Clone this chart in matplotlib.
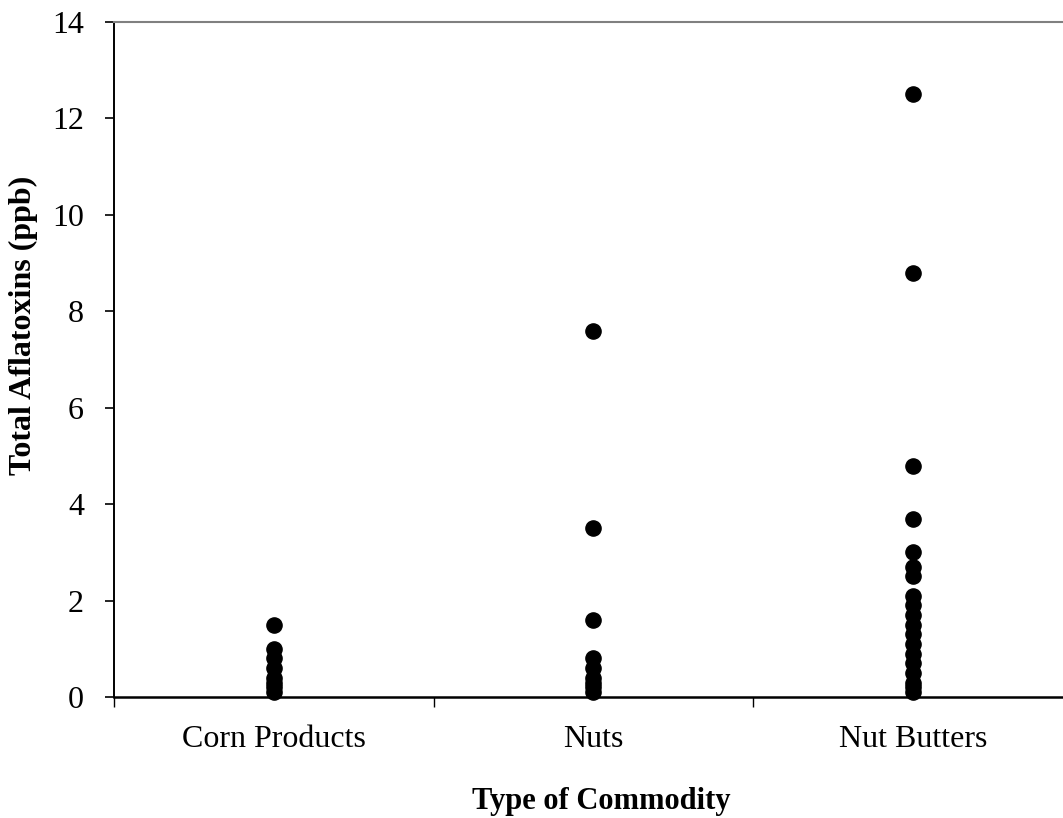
import numpy as np
import matplotlib.pyplot as plt

plt.rcParams['font.family'] = ['Liberation Serif', 'DejaVu Serif']

# Total aflatoxin levels (ppb) per commodity type
categories = ["Corn Products", "Nuts", "Nut Butters"]
corn = [1.5, 1.0, 0.8, 0.6, 0.4, 0.3, 0.2, 0.1]
nuts = [7.6, 3.5, 1.6, 0.8, 0.6, 0.4, 0.3, 0.2, 0.1]
nut_butters = [12.5, 8.8, 4.8, 3.7, 3.0, 2.7, 2.5, 2.1, 1.9, 1.7, 1.5,
               1.3, 1.1, 0.9, 0.7, 0.5, 0.3, 0.2, 0.1]
yticks = [0, 2, 4, 6, 8, 10, 12, 14]

fig = plt.figure(figsize=(10.63, 8.18), dpi=100)
ax = fig.add_axes([0.1072, 0.1479, 0.9022, 0.8252])

for i, vals in enumerate([corn, nuts, nut_butters]):
    ax.scatter(np.full(len(vals), i), vals, s=120, color='black', zorder=3,
               clip_on=False)

ax.set_xlim(-0.5, 2.5)
ax.set_ylim(0, 14)
ax.set_yticks(yticks)
ax.set_xticks(range(len(categories)))
ax.set_xticklabels(categories)
ax.set_xticks([-0.5, 0.5, 1.5, 2.5], minor=True)
ax.tick_params(axis='x', which='major', length=0, pad=20, labelsize=23)
ax.tick_params(axis='x', which='minor', length=7, width=1, direction='out')
ax.tick_params(axis='y', length=6.5, width=1.2, direction='out', pad=15,
               labelsize=23)

ax.spines['left'].set_linewidth(1.4)
ax.spines['bottom'].set_linewidth(1.8)
ax.spines['top'].set_color('#808080')
ax.spines['top'].set_linewidth(1.5)
ax.spines['right'].set_visible(False)

ax.set_xlabel("Type of Commodity", fontsize=22, fontweight='bold')
ax.xaxis.set_label_coords(0.508, -0.133)
ax.set_ylabel("Total Aflatoxins (ppb)", fontsize=23, fontweight='bold')
ax.yaxis.set_label_coords(-0.079, 0.551)

fig.savefig("out.png", dpi=100)
